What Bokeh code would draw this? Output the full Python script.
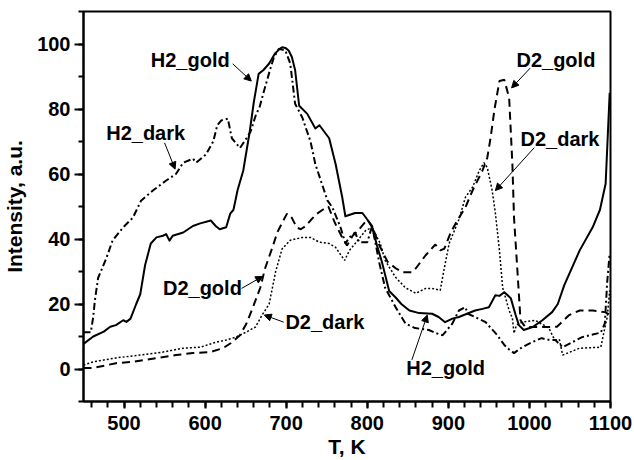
from bokeh.plotting import figure
from bokeh.models import (Range1d, SingleIntervalTicker, Arrow, NormalHead, Label)
from bokeh.embed import file_html
from bokeh.resources import INLINE

# Thermal desorption spectra: temperature (K) vs intensity (a.u.)
h2_gold_T = [450, 462, 475, 483, 490, 499, 503, 508, 515, 520, 526, 533, 540, 548, 552, 556,
             560, 573, 585, 594, 607, 613, 618, 626, 631, 635, 640, 647, 655, 660, 666, 672,
             679, 686, 692, 695, 699, 703, 707, 711, 716, 726, 736, 741, 753, 761, 769, 773,
             785, 794, 800, 806, 812, 818, 827, 835, 842, 852, 864, 880, 888, 896, 905, 913,
             923, 933, 942, 950, 958, 963, 969, 977, 983, 987, 993, 1004, 1016, 1028, 1035,
             1043, 1062, 1078, 1087, 1094, 1099]
h2_gold_I = [7.7, 10, 11.5, 13, 13.5, 15, 14.5, 15.5, 20, 23, 32, 38.6, 40.5, 41, 41.5, 39.5,
             41, 42, 44, 44.8, 45.7, 44, 43, 43.6, 47.8, 49, 55, 61, 73, 82, 90.8, 92,
             94, 97, 98.5, 99, 98.8, 98, 96, 92, 81, 78.5, 74, 75, 71, 63, 53, 47,
             48, 48, 46, 43.6, 38, 33, 24, 22, 20, 18, 17.2, 17, 16, 14.4, 15.5, 16,
             17, 18, 18.5, 19, 22.7, 22.5, 23.6, 21.8, 16.6, 13.5, 12, 12.9, 15, 17.5, 20,
             25.8, 36.5, 43.6, 49, 57, 85]

h2_dark_T = [450, 459, 462, 464, 468, 478, 486, 499, 511, 521, 536, 552, 564, 573, 585, 589,
             601, 610, 615, 620, 628, 633, 643, 651, 656, 663, 667, 672, 680, 685, 691, 699,
             705, 711, 720, 730, 736, 744, 751, 757, 767, 773, 778, 785, 790, 800, 806, 815,
             822, 835, 847, 859, 876, 885, 893, 905, 913, 921, 924, 933, 946, 960, 969, 975,
             981, 991, 1003, 1015, 1022, 1032, 1041, 1051, 1065, 1075, 1088, 1093, 1096, 1099]
h2_dark_I = [11.3, 11.3, 16, 21, 28, 34, 39.6, 43.6, 46.6, 51.8, 55, 58, 60, 63.5, 64.7, 63.5,
             66, 70, 75, 76.5, 77, 71, 68, 71, 73, 78.5, 80.4, 85, 92, 96, 98.5, 98,
             94, 81.6, 77.3, 70, 63, 57, 51.8, 49.7, 43.6, 38.6, 40.5, 42, 39, 39, 44, 32.5,
             25, 19, 14, 12.6, 12, 11, 10.4, 14, 18, 19, 17, 16, 14.4, 10.5, 7.4, 6,
             4.9, 6.7, 8.2, 9.5, 9, 8.9, 6.7, 8, 9.8, 10.4, 11.2, 14, 27, 35.6]

d2_gold_T = [450, 462, 490, 511, 539, 564, 585, 606, 622, 632, 643, 651, 659, 668, 674, 683,
             689, 695, 701, 707, 713, 718, 724, 731, 738, 745, 752, 760, 768, 775, 782, 790,
             800, 806, 815, 825, 835, 843, 855, 860, 872, 884, 890, 895, 903, 911, 921, 930,
             942, 948, 952, 957, 963, 969, 975, 979, 981, 985, 989, 995, 1016, 1034, 1049,
             1062, 1078, 1093, 1100]
d2_gold_I = [0.3, 0.3, 1.8, 2.2, 3.3, 4.3, 4.9, 5.2, 6.4, 8, 10.4, 14, 19, 25, 31, 37.4,
             42, 45, 47.8, 46.5, 43.5, 43, 44, 46, 47.8, 49, 50, 45, 41, 38, 41, 43,
             46, 44, 38, 33, 31, 29.8, 29.8, 31, 35, 38.3, 36.5, 37, 42, 45.7, 49.7, 55,
             61, 65, 71, 80, 88.6, 89, 83.4, 63, 46.6, 31, 15, 12.9, 12.9, 13, 16.6,
             18, 18, 17.5, 16.6]

d2_dark_T = [450, 462, 490, 519, 548, 573, 594, 614, 626, 638, 651, 662, 670, 679, 687, 695,
             705, 720, 730, 741, 753, 761, 772, 778, 785, 798, 806, 816, 822, 835, 847, 860,
             872, 880, 890, 895, 901, 913, 921, 930, 938, 944, 948, 954, 958, 963, 967, 975,
             979, 981, 984, 991, 1007, 1024, 1031, 1037, 1041, 1062, 1088, 1093, 1096, 1099]
d2_dark_I = [1.2, 2.2, 3.4, 4.3, 5.2, 6.4, 6.7, 8.3, 8.9, 9.8, 11.4, 12.9, 16.5, 20, 30, 37,
             39.6, 40.5, 40.5, 39, 38.6, 37.4, 33.4, 36.5, 38.6, 42.6, 43.6, 38.6, 33.4, 28.2, 25, 23.3,
             24.8, 24.8, 24.2, 31, 38.6, 46, 52.8, 56, 61, 63.5, 62, 55, 48, 36.5, 25, 18,
             15.6, 11, 13.5, 14.4, 15, 12.6, 9, 9, 4.3, 6.4, 6.7, 12.6, 16, 24.2]

x_ticks = [500, 600, 700, 800, 900, 1000, 1100]
y_ticks = [0, 20, 40, 60, 80, 100]

# (text, text x, text y, arrow start x, arrow start y, arrow end x, arrow end y)
callouts = [
    ("H2_gold", 533, 95.1, 634, 93.9, 657, 88.6),
    ("H2_dark", 478, 72.5, 550, 69.6, 563, 61.5),
    ("D2_gold", 984, 95.2, 1001, 92.6, 978, 86.5),
    ("D2_dark", 989, 70.9, 1006, 68.1, 958, 54.9),
    ("D2_gold", 548, 24.8, 645, 24.8, 671, 28.5),
    ("D2_dark", 699, 14.4, 697, 14.4, 673, 16.6),
    ("H2_gold", 848, 0.3, 855, 2.8, 874, 16.6),
]

FONT = "Liberation Sans"

p = figure(width=634, height=460, output_backend="svg", toolbar_location=None,
           x_range=Range1d(450, 1100), y_range=Range1d(-10, 110))
p.min_border_left = 81
p.min_border_right = 24
p.min_border_top = 11
p.min_border_bottom = 58
p.background_fill_color = "white"
p.border_fill_color = "white"
p.outline_line_color = "black"
p.outline_line_width = 2
p.xgrid.visible = False
p.ygrid.visible = False

for ax in (p.xaxis[0], p.yaxis[0]):
    ax.axis_line_width = 2
    ax.major_tick_line_width = 2
    ax.minor_tick_line_width = 2
    ax.major_tick_in = 0
    ax.minor_tick_in = 0
    ax.major_label_text_font = FONT
    ax.major_label_text_font_style = "bold"
    ax.major_label_text_font_size = "20px"
    ax.major_label_text_color = "black"
    ax.axis_label_text_font = FONT
    ax.axis_label_text_font_style = "bold"
    ax.axis_label_text_font_size = "21px"
    ax.axis_label_text_color = "black"

p.xaxis.ticker = SingleIntervalTicker(interval=100, num_minor_ticks=5)
p.yaxis.ticker = SingleIntervalTicker(interval=20, num_minor_ticks=2)
p.xaxis.major_label_overrides = {v: str(v) for v in x_ticks}
p.yaxis.major_label_overrides = {v: str(v) for v in y_ticks}
p.xaxis.major_tick_out = 7
p.xaxis.minor_tick_out = 6
p.yaxis.major_tick_out = 9
p.yaxis.minor_tick_out = 5
p.xaxis.major_label_standoff = 7
p.yaxis.major_label_standoff = 4
p.xaxis.axis_label = "T, K"
p.yaxis.axis_label = "Intensity, a.u."
p.xaxis.axis_label_standoff = 2
p.yaxis.axis_label_standoff = 8

p.line(h2_gold_T, h2_gold_I, line_color="black", line_width=2, line_join="round")
p.line(h2_dark_T, h2_dark_I, line_color="black", line_width=2, line_dash="7 3 2 3")
p.line(d2_gold_T, d2_gold_I, line_color="black", line_width=2, line_dash="8 5")
p.line(d2_dark_T, d2_dark_I, line_color="black", line_width=1.5, line_dash="2 2")

for text, tx, ty, x0, y0, x1, y1 in callouts:
    p.add_layout(Label(x=tx, y=ty, text=text, text_font=FONT, text_font_style="bold",
                       text_font_size="20px", text_baseline="middle", text_align="left",
                       text_color="black"))
    p.add_layout(Arrow(x_start=x0, y_start=y0, x_end=x1, y_end=y1, line_width=1,
                       line_color="black",
                       end=NormalHead(size=7, fill_color="black", line_color="black")))

open("out.html", "w").write(file_html(p, INLINE))
